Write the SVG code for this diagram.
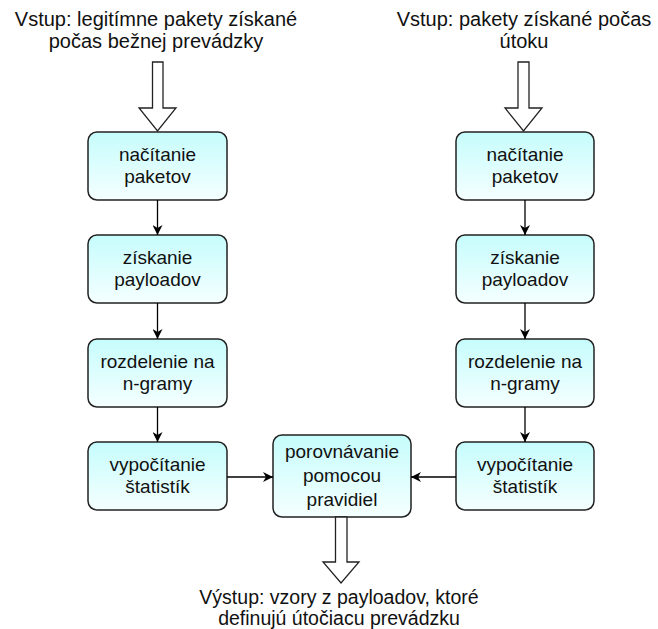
<svg xmlns="http://www.w3.org/2000/svg" width="658" height="629" viewBox="0 0 658 629">
<defs>
<linearGradient id="g" x1="0" y1="0" x2="0" y2="1">
<stop offset="0" stop-color="#c6fcfc"/>
<stop offset="1" stop-color="#f5ffff"/>
</linearGradient>
<marker id="ah" viewBox="0 0 10 10" refX="10" refY="5" markerWidth="10" markerHeight="10" markerUnits="userSpaceOnUse" orient="auto">
<path d="M0,0 L10,5 L0,10 L3,5 Z" fill="#000"/>
</marker>
<style>
.box{fill:url(#g);stroke:#222;stroke-width:1.5}
.t{font-family:"Liberation Sans",Arial,sans-serif;font-size:19px;fill:#111;text-anchor:middle}
.io{font-size:20px}
.out{font-size:19.5px}
.c{stroke:#000;stroke-width:1.3;fill:none;marker-end:url(#ah)}
.ba{fill:#fff;stroke:#222;stroke-width:1.3}
</style>
</defs>
<rect width="658" height="629" fill="#fff"/>
<g id="input-left"><text class="t io" x="156" y="26">Vstup: legitímne pakety získané</text><text class="t io" x="156" y="48">počas bežnej prevádzky</text></g>
<g id="input-right"><text class="t io" x="524" y="26">Vstup: pakety získané počas</text><text class="t io" x="524" y="48">útoku</text></g>
<g id="output"><text class="t out" x="339" y="604">Výstup: vzory z payloadov, ktoré</text><text class="t out" x="339" y="625">definujú útočiacu prevádzku</text></g>

<g id="L1"><rect class="box" x="88" y="132" width="139" height="68" rx="9"/><text class="t" x="157.5" y="161">načítanie</text><text class="t" x="157.5" y="183">paketov</text></g>
<g id="L2"><rect class="box" x="88" y="235" width="139" height="68" rx="9"/><text class="t" x="157.5" y="264">získanie</text><text class="t" x="157.5" y="286">payloadov</text></g>
<g id="L3"><rect class="box" x="88" y="339" width="139" height="68" rx="9"/><text class="t" x="157.5" y="368">rozdelenie na</text><text class="t" x="157.5" y="390">n-gramy</text></g>
<g id="L4"><rect class="box" x="88" y="442" width="139" height="68" rx="9"/><text class="t" x="157.5" y="471">vypočítanie</text><text class="t" x="157.5" y="493">štatistík</text></g>

<g id="R1"><rect class="box" x="456" y="132" width="138" height="68" rx="9"/><text class="t" x="525" y="161">načítanie</text><text class="t" x="525" y="183">paketov</text></g>
<g id="R2"><rect class="box" x="456" y="235" width="138" height="68" rx="9"/><text class="t" x="525" y="264">získanie</text><text class="t" x="525" y="286">payloadov</text></g>
<g id="R3"><rect class="box" x="456" y="339" width="138" height="68" rx="9"/><text class="t" x="525" y="368">rozdelenie na</text><text class="t" x="525" y="390">n-gramy</text></g>
<g id="R4"><rect class="box" x="456" y="442" width="138" height="68" rx="9"/><text class="t" x="525" y="471">vypočítanie</text><text class="t" x="525" y="493">štatistík</text></g>

<g id="M"><rect class="box" x="273" y="435" width="138" height="82" rx="9"/><text class="t" x="342" y="458">porovnávanie</text><text class="t" x="342" y="482">pomocou</text><text class="t" x="342" y="506">pravidiel</text></g>

<g id="connectors">
<path class="ba" d="M152.5,62 H163 V108 H176 L157.5,131 L139,108 H152.5 Z"/>
<path class="ba" d="M518,62 H529 V108 H542 L523.5,131 L505,108 H518 Z"/>
<path class="ba" d="M335.5,517 H347 V562 H359 L341,583 L323,562 H335.5 Z"/>
<line class="c" x1="157.5" y1="200" x2="157.5" y2="235"/>
<line class="c" x1="157.5" y1="303" x2="157.5" y2="339"/>
<line class="c" x1="157.5" y1="407" x2="157.5" y2="442"/>
<line class="c" x1="525" y1="200" x2="525" y2="235"/>
<line class="c" x1="525" y1="303" x2="525" y2="339"/>
<line class="c" x1="525" y1="407" x2="525" y2="442"/>
<line class="c" x1="227" y1="477" x2="273" y2="477"/>
<line class="c" x1="456" y1="477" x2="411" y2="477"/>
</g>
</svg>
